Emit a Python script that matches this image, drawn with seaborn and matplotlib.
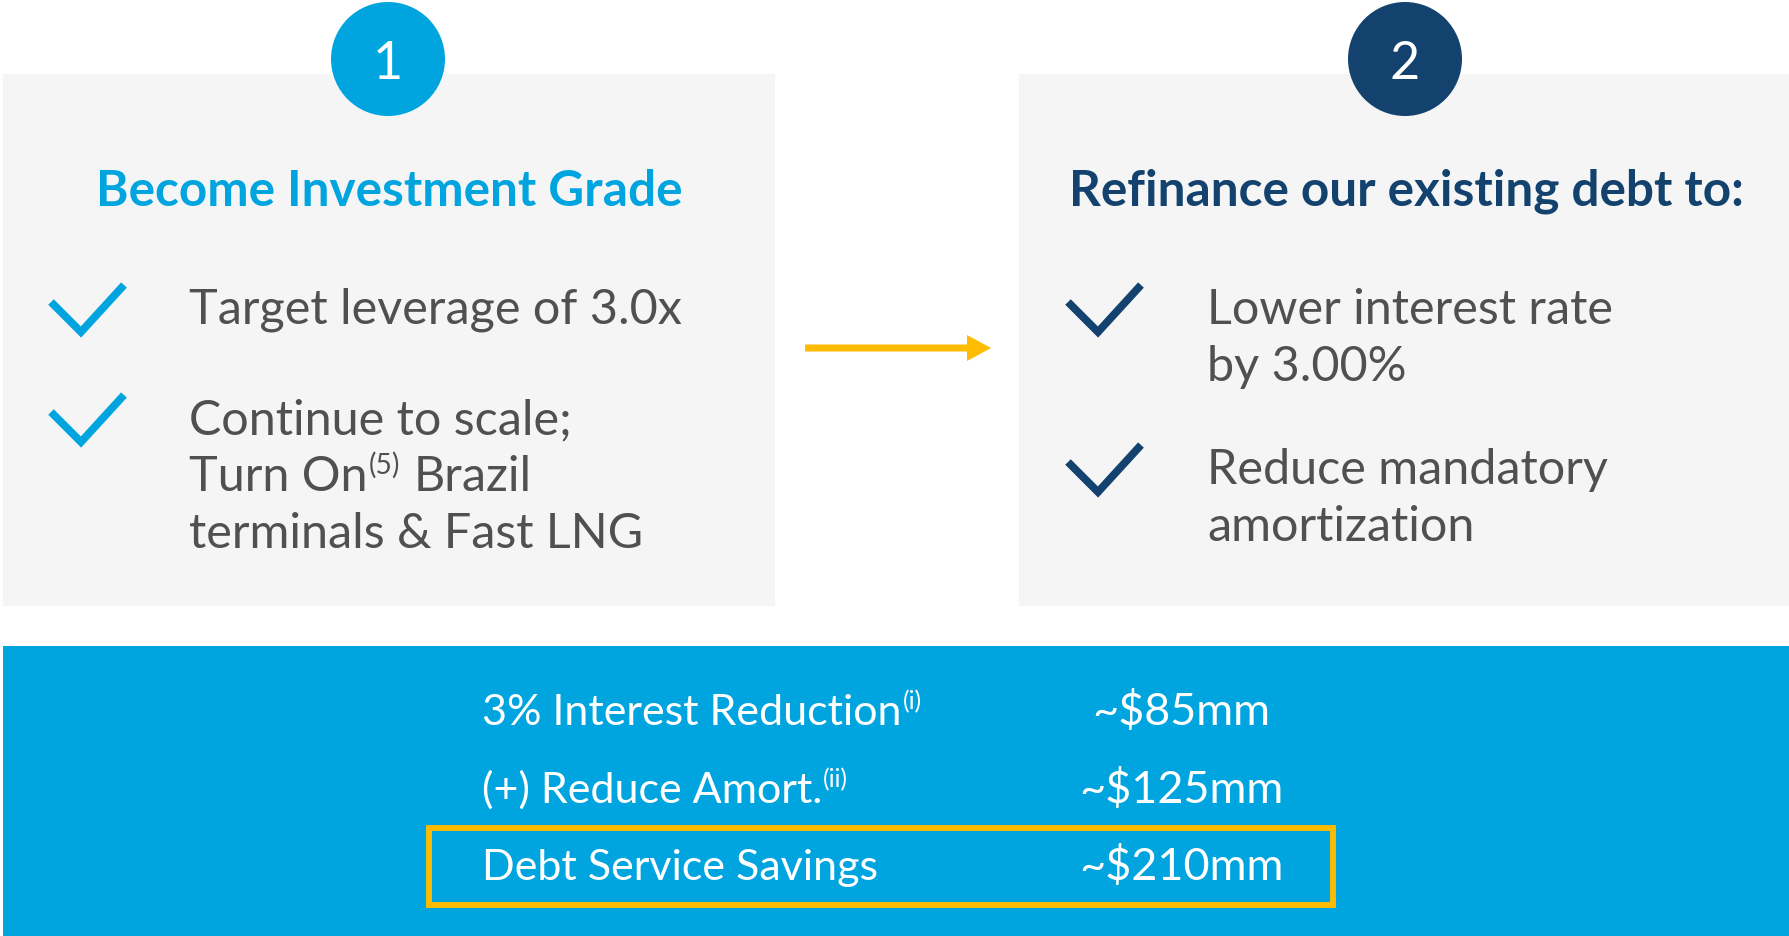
import re
import matplotlib
matplotlib.use("Agg")
import matplotlib.pyplot as plt
from matplotlib.patches import Rectangle, FancyArrow
import seaborn as sns

# ---------------- data ----------------
step_numbers = ["1", "2"]
step_titles = ["Become Investment Grade", "Refinance our existing debt to:"]
left_bullets = [["Target leverage of 3.0x"],
                ["Continue to scale;", "Turn On^{(5)} Brazil", "terminals & Fast LNG"]]
right_bullets = [["Lower interest rate", "by 3.00%"],
                 ["Reduce mandatory", "amortization"]]
savings_labels = ["3% Interest Reduction^{(i)}", "(+) Reduce Amort.^{(ii)}", "Debt Service Savings"]
savings_values = ["~$85mm", "~$125mm", "~$210mm"]

# ---------------- style ----------------
sns.set_theme(style="white")
plt.rcParams["font.family"] = ["Lato", "DejaVu Sans"]

BLUE = "#00A5DF"
NAVY = "#12426D"
GRAY = "#505050"
PANEL = "#F5F5F5"
YELLOW = "#FFBB00"

W, H = 1790, 937
fig = plt.figure(figsize=(W / 100, H / 100), dpi=100)
ax = fig.add_axes([0, 0, 1, 1])
renderer = fig.canvas.get_renderer()


def px2pt(px):
    return px * 72 / 100


def text_width(s, size, weight):
    t = ax.text(0, 0, s, fontsize=size, fontweight=weight, parse_math=False)
    w = t.get_window_extent(renderer).width
    t.remove()
    return w


def rich_text(x, y, s, size, color, weight="normal", ha="left"):
    parts = re.split(r"\^\{(.*?)\}", s)
    sup_size = size * 0.58
    space = text_width("a a", size, weight) - text_width("aa", size, weight)
    segs = []
    for i, p in enumerate(parts):
        if p == "":
            continue
        sup = (i % 2 == 1)
        sz = sup_size if sup else size
        lead = space if (not sup and p.startswith(" ")) else 0
        txt = p.strip() if not sup else p
        w = text_width(txt, sz, weight)
        segs.append((txt, sz, sup, lead, w))
    total = sum(s_[3] + s_[4] for s_ in segs)
    cx = x - total / 2 if ha == "center" else x
    for txt, sz, sup, lead, w in segs:
        cx += lead
        yy = y - size * 100 / 72 * 0.36 if sup else y
        ax.text(cx, yy, txt, fontsize=sz, fontweight=weight, color=color,
                ha="left", va="baseline", parse_math=False)
        cx += w + 1


# numbered circles (seaborn scatter)
sns.scatterplot(x=[388, 1405], y=[60, 60], hue=step_numbers,
                palette=[BLUE, NAVY], s=(2 * 57 * 0.72) ** 2, linewidth=0,
                legend=False, ax=ax, zorder=3)
ax.set_xlim(0, W)
ax.set_ylim(H, 0)
ax.axis("off")

# ---------------- panels ----------------
ax.add_patch(Rectangle((3, 75), 772, 532, color=PANEL, lw=0, zorder=0))
ax.add_patch(Rectangle((1019, 75), 771, 532, color=PANEL, lw=0, zorder=0))

for cx, num in zip([388, 1405], step_numbers):
    ax.text(cx, 79, num, fontsize=px2pt(52), color="white", fontweight="normal",
            ha="center", va="baseline", zorder=4)

# titles
title_size = px2pt(49.5)
ax.text(389, 206, step_titles[0], fontsize=title_size, fontweight="bold",
        color=BLUE, ha="center", va="baseline")
ax.text(1406, 206, step_titles[1], fontsize=title_size, fontweight="bold",
        color=NAVY, ha="center", va="baseline")


def check(x0, y0, color):
    xs = [x0 + 2, x0 + 32, x0 + 75]
    ys = [y0 + 20, y0 + 50, y0 + 3]
    ax.plot(xs, ys, color=color, lw=5.6, solid_capstyle="butt",
            solid_joinstyle="miter", zorder=3)


body = px2pt(48.5)
line_gap = 57
# left bullets
for (y_check, y_base), lines in zip([(283, 324), (393, 434)], left_bullets):
    check(49, y_check, BLUE)
    for k, ln in enumerate(lines):
        rich_text(189, y_base + k * line_gap, ln, body, GRAY)

# right bullets
for (y_check, y_base), lines in zip([(283, 324), (443, 484)], right_bullets):
    check(1066, y_check, NAVY)
    for k, ln in enumerate(lines):
        rich_text(1207, y_base + k * line_gap, ln, body, GRAY)

# arrow
ax.add_patch(FancyArrow(805, 349, 186, 0, width=7, head_width=26, head_length=24,
                        length_includes_head=True, color=YELLOW, lw=0))

# ---------------- bottom band ----------------
ax.add_patch(Rectangle((3, 647), W - 3, H - 647, color=BLUE, lw=0, zorder=0))
row_base = [725, 803, 880]
small = px2pt(43)
for lab, val, yb in zip(savings_labels, savings_values, row_base):
    rich_text(482, yb, lab, small, "white")
    ax.text(1181, yb, val, fontsize=px2pt(45), fontweight="normal", color="white",
            ha="center", va="baseline", parse_math=False)

ax.add_patch(Rectangle((429, 829), 904, 77, fill=False, edgecolor=YELLOW, lw=4.2,
                       zorder=2))

fig.savefig("out.png", dpi=100)
